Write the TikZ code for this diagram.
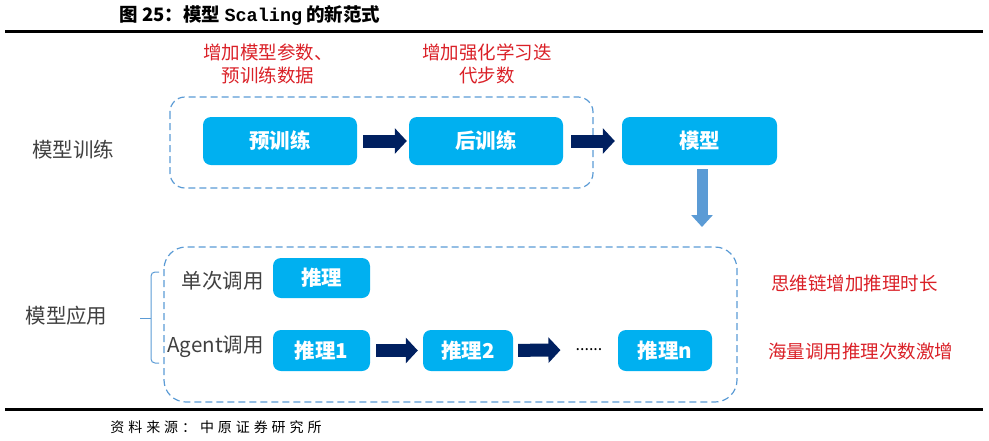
\documentclass[tikz,border=0pt]{standalone}
\usepackage{fontspec}
\setmainfont{Noto Sans CJK SC}
\newfontfamily\monofont{Liberation Mono}
\newfontfamily\srcfont[LetterSpace=28]{Noto Sans CJK SC}
\usetikzlibrary{arrows.meta}
\definecolor{boxblue}{HTML}{00B0F0}
\definecolor{navy}{HTML}{002060}
\definecolor{lineblue}{HTML}{5B9BD5}
\definecolor{redtxt}{HTML}{DA2128}
\definecolor{graytxt}{HTML}{404040}
\begin{document}
\begin{tikzpicture}[x=1pt,y=-1pt,line join=round,
  stage/.style={fill=boxblue,text=white,rounded corners=8pt,inner sep=0pt,minimum width=154pt,minimum height=48pt,font=\fontsize{20.5}{24}\selectfont\bfseries},
  infer/.style={stage,minimum width=97pt,minimum height=41pt},
  sidelabel/.style={text=graytxt,inner sep=0pt,font=\fontsize{20.5}{24}\selectfont},
  rednote/.style={text=redtxt,inner sep=0pt,align=center,font=\fontsize{18.5}{23}\selectfont},
  blockarrow/.style={navy,line width=13pt,-{Triangle[length=12pt,width=25pt]}},
  dashframe/.style={lineblue,line width=1.2pt,dash pattern=on 7pt off 4pt},
  ]
  \useasboundingbox (0,0) rectangle (989,440);
  \node (title) at (250,15) {\fontsize{18.5}{21}\selectfont\bfseries 图 25：模型 {\monofont Scaling} 的新范式};
  \draw[line width=3pt] (5,31) -- (983,31) (5,409) -- (983,409);
  \node (src) at (216,427) {\srcfont\fontsize{14}{16}\selectfont 资料来源：中原证券研究所};
  \node[rednote] (moreparam) at (268,63.5) {增加模型参数、\\预训练数据};
  \node[rednote] (morerl) at (487,63.5) {增加强化学习迭\\代步数};
  \draw[dashframe,rounded corners=15pt] (170,97) rectangle (593,188);
  \draw[dashframe,rounded corners=22pt] (164,247) rectangle (737,402);
  \node[sidelabel] (train) at (73,150) {模型训练};
  \node[stage] (pre) at (280,141) {预训练};
  \node[stage] (post) at (486,141) {后训练};
  \node[stage,minimum width=155pt] (model) at (699.5,141) {模型};
  \draw[blockarrow,shorten <=6pt,shorten >=2pt] (pre) -- (post);
  \draw[blockarrow,shorten <=8pt,shorten >=7pt] (post) -- (model);
  \coordinate (mtip) at (702,227);
  \draw[lineblue,line width=11pt,-{Triangle[length=12pt,width=21pt]},shorten <=4pt] (model.south -| mtip) -- (mtip);
  \node[sidelabel] (apply) at (66.5,316) {模型应用};
  \draw[lineblue,line width=1pt,rounded corners=4pt] (159,272) -- (151,272) -- (151,363) -- (159,363);
  \draw[lineblue,line width=1pt] (151,318) -- (140,318);
  \node[sidelabel,anchor=east] (once) at (264,281) {单次调用};
  \node[sidelabel,anchor=east] (agent) at (264,347) {Agent调用};
  \node[infer,minimum height=40pt] (inf) at (321.5,278) {推理};
  \node[infer] (inf1) at (321.5,350.5) {推理1};
  \node[infer,minimum width=90pt] (inf2) at (468,350.5) {推理2};
  \node[inner sep=0pt,font=\fontsize{16}{18}\selectfont] (dots) at (589,350) {......};
  \node[infer,minimum width=94pt] (infn) at (665,350.5) {推理n};
  \draw[blockarrow,shorten <=6pt,shorten >=5pt] (inf1) -- (inf2);
  \draw[blockarrow,shorten <=5pt,shorten >=15pt] (inf2) -- (dots);
  \node[rednote,anchor=west] (cot) at (771,283) {思维链增加推理时长};
  \node[rednote,anchor=west] (calls) at (768,351) {海量调用推理次数激增};
\end{tikzpicture}
\end{document}
